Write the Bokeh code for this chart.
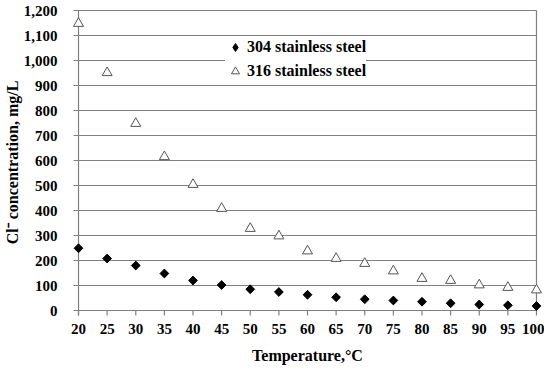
from bokeh.plotting import figure
from bokeh.models import Legend, LegendItem, FixedTicker, NumeralTickFormatter
from bokeh.embed import file_html
from bokeh.resources import INLINE
import math

# ---- data ----
temperature = [20, 25, 30, 35, 40, 45, 50, 55, 60, 65, 70, 75, 80, 85, 90, 95, 100]
ss304 = [249, 208, 180, 148, 120, 102, 85, 74, 63, 53, 45, 40, 35, 29, 24, 21, 18]
ss316 = [1148, 951, 748, 615, 504, 408, 328, 298, 238, 208, 188, 158, 128, 120, 102, 92, 82]
y_ticks = [0, 100, 200, 300, 400, 500, 600, 700, 800, 900, 1000, 1100, 1200]
x_ticks = temperature
labels = ["304 stainless steel", "316 stainless steel"]

GRID = "#808080"
FONT = "Liberation Serif"

x_lo, x_hi = x_ticks[0], x_ticks[-1]
y_lo, y_hi = y_ticks[0], y_ticks[-1]

p = figure(frame_width=474, frame_height=308,
           min_border_left=60, min_border_right=0, min_border_top=8, min_border_bottom=10,
           x_range=(18.6, 101.4), y_range=(-24, 1208),
           output_backend="svg", toolbar_location=None)
p.outline_line_color = None
p.xgrid.visible = False
p.ygrid.visible = False

px_x = 474 / (101.4 - 18.6)   # px per x unit
px_y = 308 / (1208 + 24)      # px per y unit
tick_x = 5 / px_x
tick_y = 5 / px_y

# horizontal gridlines (extending left as tick marks)
n = len(y_ticks)
p.segment(x0=[x_lo - tick_x] * n, y0=y_ticks, x1=[x_hi] * n, y1=y_ticks,
          line_color=GRID, line_width=1.2)
# x tick marks
p.segment(x0=x_ticks, y0=[y_lo] * len(x_ticks), x1=x_ticks, y1=[y_lo - tick_y] * len(x_ticks),
          line_color=GRID, line_width=1.2)
# left axis line and right frame line
p.segment(x0=[x_lo, x_hi], y0=[y_lo - tick_y, y_lo], x1=[x_lo, x_hi], y1=[y_hi, y_hi],
          line_color=GRID, line_width=1.2)

r304 = p.scatter(temperature, ss304, marker="square", angle=math.pi / 4, size=6.2,
                 fill_color="black", line_color="black")
r316 = p.scatter(temperature, ss316, marker="triangle", size=10,
                 fill_color="white", line_color="#555555", line_width=1)

# legend proxies (hidden in the plot, drawn only in the legend)
l304 = p.scatter(temperature, ss304, marker="diamond", fill_color="black", line_color="black",
                 visible=False)
l316 = p.scatter(temperature, ss316, marker="triangle", fill_color="white", line_color="#555555",
                 visible=False)

legend = Legend(items=[LegendItem(label=labels[0], renderers=[l304]),
                       LegendItem(label=labels[1], renderers=[l316])],
                location=(155, 235), margin=0, padding=12, spacing=4,
                glyph_width=20, glyph_height=20, label_height=20, label_standoff=2,
                border_line_color=None, background_fill_color="white", background_fill_alpha=1,
                inactive_fill_alpha=0,
                label_text_font=FONT, label_text_font_style="bold", label_text_font_size="16px",
                label_text_color="black")
p.add_layout(legend)

for ax in (p.xaxis[0], p.yaxis[0]):
    ax.axis_line_color = None
    ax.major_tick_line_color = None
    ax.minor_tick_line_color = None
    ax.major_label_text_font = FONT
    ax.major_label_text_font_style = "bold"
    ax.major_label_text_font_size = "15px"
    ax.major_label_text_color = "black"
    ax.axis_label_text_font = FONT
    ax.axis_label_text_font_style = "bold"
    ax.axis_label_text_font_size = "16px"
    ax.axis_label_text_color = "black"

p.xaxis.ticker = FixedTicker(ticks=x_ticks)
p.yaxis.ticker = FixedTicker(ticks=y_ticks)
p.yaxis.formatter = NumeralTickFormatter(format="0,0")
p.xaxis.major_label_standoff = 1
p.yaxis.major_label_standoff = 7
p.xaxis.axis_label = "Temperature,°C"
p.yaxis.axis_label = "Cl⁻ concentration, mg/L"
p.xaxis.axis_label_standoff = 10
p.yaxis.axis_label_standoff = 0

open("out.html", "w").write(file_html(p, INLINE))
